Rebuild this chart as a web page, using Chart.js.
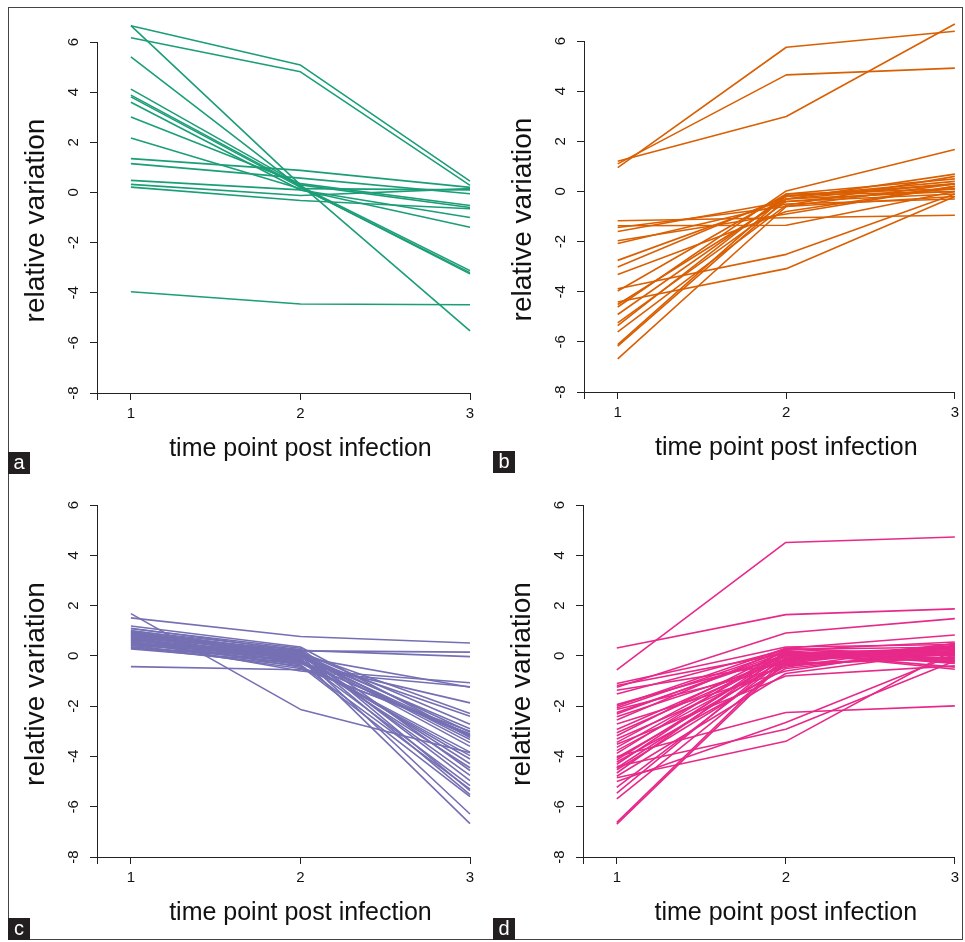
<!DOCTYPE html>
<html><head><meta charset="utf-8">
<script src="https://cdn.jsdelivr.net/npm/chart.js@4.4.0/dist/chart.umd.min.js"></script>
<style>
html,body{margin:0;padding:0;background:#fff;}
body{width:965px;height:942px;position:relative;overflow:hidden;font-family:'Liberation Sans',Arial,sans-serif;}
.frame{position:absolute;left:8px;top:7px;width:955px;height:933px;border:1px solid #444;box-sizing:border-box;}
.panel{position:absolute;}
.tag{position:absolute;width:22px;height:22px;background:#231f20;color:#fff;font-size:20px;line-height:21px;text-align:center;z-index:5;}
</style></head><body>
<div class="frame"></div>
<div class="panel" style="left:0;top:0;width:480px;height:472px"><canvas id="pa"></canvas></div>
<div class="panel" style="left:482px;top:0;width:482px;height:472px"><canvas id="pb"></canvas></div>
<div class="panel" style="left:0;top:472px;width:480px;height:470px"><canvas id="pc"></canvas></div>
<div class="panel" style="left:482px;top:472px;width:482px;height:470px"><canvas id="pd"></canvas></div>
<div class="tag" style="left:8px;top:452px">a</div>
<div class="tag" style="left:493px;top:451px">b</div>
<div class="tag" style="left:8px;top:918px">c</div>
<div class="tag" style="left:493px;top:918px">d</div>
<script>
// ---- data ----
const timePoints = [1, 2, 3];
const xTickValues = [0.8, 1, 2, 3];
const xTickLabels = ['', '1', '2', '3'];
const yTickValues = [-8, -6, -4, -2, 0, 2, 4, 6];
const yTickLabels = ['-8', '-6', '-4', '-2', '0', '2', '4', '6'];
const xTitle = 'time point post infection';
const yTitle = 'relative variation';
const panelTags = ['a', 'b', 'c', 'd'];

// panel a (each index = one gene profile)
const aT1 = [6.65, 6.17, 6.65, 5.41, 4.12, 3.88, 3.81, 3.60, 3.01, 2.17, 1.35, 1.15, 0.48, 0.32, 0.21, -3.96];
const aT2 = [5.08, 4.81, 0.30, 0.20, 0.30, 0.25, 0.20, 0.10, 0.35, 0.15, 0.88, 0.57, 0.10, -0.12, -0.32, -4.45];
const aT3 = [0.45, 0.28, -5.52, -3.20, -0.60, -3.12, -3.25, -1.00, -0.52, 0.10, 0.20, -0.05, -1.39, 0.15, -0.65, -4.48];

// panel b
const bT1 = [0.95, 1.10, 1.20, -1.17, -1.37, -1.44, -1.60, -1.97, -2.08, -2.75, -3.01, -3.88, -3.31, -3.97, -4.41, -4.51, -4.61, -4.91, -5.24, -5.35, -5.60, -6.11, -6.17, -6.68];
const bT2 = [5.75, 4.65, 2.99, -1.05, -1.35, -0.60, -0.40, -0.90, -0.50, -0.30, -0.20, -2.51, -0.80, -0.10, -3.08, -0.30, 0.02, -0.20, -0.40, -0.10, -0.55, -0.15, -0.30, -0.60];
const bT3 = [6.39, 4.92, 6.68, -0.95, 0.00, 0.30, 0.10, 0.20, -0.30, 0.69, 0.40, -0.10, 0.20, 0.50, -0.20, 0.00, 1.67, 0.30, -0.10, 0.10, 0.60, 0.00, 0.30, -0.20];

// panel c
const cT1 = [1.68, 1.51, -0.43, 1.19, 1.10, 1.08, 1.01, 0.99, 0.97, 0.93, 0.93, 0.90, 0.86, 0.85, 0.84, 0.80, 0.78, 0.78, 0.74, 0.71, 0.70, 0.66, 0.64, 0.63, 0.60, 0.59, 0.55, 0.52, 0.51, 0.47, 0.45, 0.43, 0.40, 0.36, 0.33, 0.30, 0.27];
const cT2 = [-2.13, 0.77, -0.55, 0.35, 0.20, 0.30, 0.10, 0.25, -0.05, 0.15, 0.05, -0.10, 0.22, 0.00, -0.20, 0.12, -0.15, 0.08, -0.30, 0.18, -0.45, 0.02, -0.08, -0.25, 0.10, -0.60, -0.12, 0.05, -0.35, -0.02, -0.18, -0.50, 0.07, -0.22, -0.40, -0.05, -0.28];
const cT3 = [-3.85, 0.51, -1.07, -3.25, 0.15, -4.56, -3.03, -5.36, -1.25, -2.72, -3.60, -6.67, -0.03, -4.29, -3.18, -2.29, -5.16, -3.45, -1.87, -4.96, -3.10, -6.29, -2.40, -3.97, -5.52, -1.23, -4.45, -3.33, -5.30, -2.90, -4.10, -3.00, -4.75, -3.20, -5.60, -3.15, -3.83];

// panel d
const dT1 = [-0.56, 0.31, -1.25, -4.00, -5.00, -4.40, -4.85, -6.69, -6.62, -2.00, -1.10, -1.18, -1.37, -1.52, -1.94, -2.07, -2.13, -2.25, -2.31, -2.42, -2.55, -2.71, -2.93, -3.06, -3.18, -3.31, -3.44, -3.52, -3.64, -3.77, -3.88, -4.05, -4.13, -4.22, -4.31, -4.46, -4.53, -4.66, -4.79, -5.23, -5.46, -5.69];
const dT2 = [4.51, 1.64, 0.91, -2.25, -2.65, -2.92, -3.40, -0.20, -0.10, 0.30, 0.35, 0.10, -0.30, 0.25, -0.05, 0.20, -0.45, 0.05, 0.15, -0.20, 0.30, -0.60, 0.00, -0.10, 0.22, -0.35, 0.12, -0.80, 0.08, -0.15, 0.28, -0.25, 0.02, -0.50, 0.18, -0.08, -0.40, 0.14, -0.70, -0.12, 0.06, -0.30];
const dT3 = [4.73, 1.87, 1.48, -1.99, 0.05, -0.20, 0.25, 0.30, 0.10, 0.83, 0.45, 0.20, -0.10, 0.35, 0.05, -0.30, 0.50, 0.15, -0.53, 0.28, 0.00, 0.40, -0.20, 0.10, 0.55, -0.05, 0.25, -0.40, 0.32, 0.12, -0.15, 0.48, 0.02, 0.22, -0.25, 0.38, 0.08, -0.45, 0.18, 0.30, -0.08, 0.42];

const panelColors = ['#1B9E77', '#D95F02', '#7570B3', '#E7298A'];

// ---- drawing ----
const FONT = "'Liberation Sans', Arial, Helvetica, sans-serif";
Chart.defaults.font.family = FONT;
const AXIS = '#222';

const axisTitlePlugin = {
  id: 'axisTitles',
  afterDraw(chart, args, o) {
    const {ctx, chartArea, scales} = chart;
    ctx.save();
    ctx.fillStyle = '#111';
    ctx.textAlign = 'center';
    ctx.textBaseline = 'middle';
    ctx.font = o.xSize + 'px ' + FONT;
    ctx.fillText(o.xText, scales.x.getPixelForValue(2), chartArea.bottom + o.xGap);
    ctx.font = o.ySize + 'px ' + FONT;
    ctx.translate(chartArea.left - o.yGap, (chartArea.top + chartArea.bottom) / 2 + o.yShift);
    ctx.rotate(-Math.PI / 2);
    ctx.fillText(o.yText, 0, 0);
    ctx.restore();
  }
};

function makePanel(id, t1, t2, t3, color, yAxisW, xAxisH, padTop, padRight) {
  const datasets = t1.map((v, i) => ({
    data: [
      {x: timePoints[0], y: t1[i]},
      {x: timePoints[1], y: t2[i]},
      {x: timePoints[2], y: t3[i]}
    ],
    borderColor: color,
    borderWidth: 1.6,
    pointRadius: 0,
    tension: 0,
    fill: false,
    clip: false,
    borderJoinStyle: 'round',
    borderCapStyle: 'butt'
  }));
  return new Chart(document.getElementById(id), {
    type: 'line',
    data: {datasets},
    options: {
      responsive: true,
      maintainAspectRatio: false,
      animation: false,
      events: [],
      layout: {padding: {top: padTop, right: padRight, left: 0, bottom: 0}},
      plugins: {
        legend: {display: false},
        tooltip: {enabled: false},
        axisTitles: {xText: xTitle, yText: yTitle, xSize: 25, ySize: 28, xGap: 56, yGap: 61, yShift: 3}
      },
      scales: {
        x: {
          type: 'linear', min: 0.8, max: 3,
          afterBuildTicks: s => { s.ticks = xTickValues.map(v => ({value: v})); },
          afterFit: s => { s.height = xAxisH; },
          grid: {display: true, drawOnChartArea: false, drawTicks: true, tickLength: 7, color: AXIS, lineWidth: 1},
          border: {display: true, color: AXIS, width: 1},
          ticks: {autoSkip: false, maxRotation: 0, padding: 5, color: '#111', font: {size: 15},
                  callback: (v, i) => xTickLabels[i]}
        },
        y: {
          type: 'linear', min: -8, max: 6,
          afterBuildTicks: s => { s.ticks = yTickValues.map(v => ({value: v})); },
          afterFit: s => { s.width = yAxisW; },
          grid: {display: true, drawOnChartArea: false, drawTicks: true, tickLength: 7, color: AXIS, lineWidth: 1},
          border: {display: true, color: AXIS, width: 1},
          ticks: {autoSkip: false, minRotation: 90, maxRotation: 90, crossAlign: 'center', padding: 9,
                  color: '#111', font: {size: 15}, callback: (v, i) => yTickLabels[i]}
        }
      }
    },
    plugins: [axisTitlePlugin]
  });
}

makePanel('pa', aT1, aT2, aT3, panelColors[0], 97, 79, 42, 10);
makePanel('pb', bT1, bT2, bT3, panelColors[1], 102, 80, 41, 8);
makePanel('pc', cT1, cT2, cT3, panelColors[2], 97, 85, 33, 10);
makePanel('pd', dT1, dT2, dT3, panelColors[3], 101, 85, 33, 8);
</script>
</body></html>
